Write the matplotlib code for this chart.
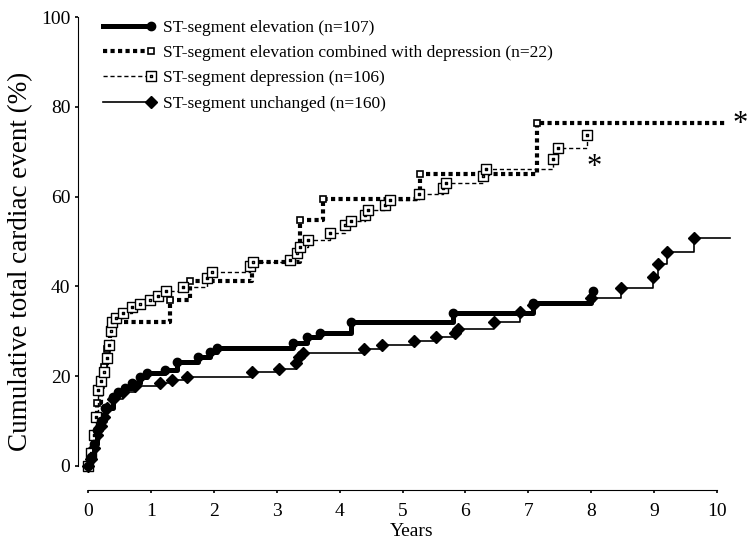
import numpy as np
import matplotlib
matplotlib.use('Agg')
import matplotlib.pyplot as plt
from matplotlib.path import Path
from matplotlib.lines import Line2D
from matplotlib.legend_handler import HandlerLine2D

plt.rcParams['font.family'] = ['Liberation Serif', 'DejaVu Serif']

# event times (years) and cumulative event rate (%)
elev_t = [0, 0.05, 0.1, 0.15, 0.2, 0.27, 0.4, 0.48, 0.59, 0.7, 0.83, 0.94, 1.22, 1.41,
          1.75, 1.94, 2.05, 3.26, 3.48, 3.69, 4.18, 5.8, 7.07, 8.0, 8.03]
elev_v = [0, 2, 5, 8, 10, 13, 15.4, 16.5, 17.4, 18.5, 19.8, 20.7, 21.4, 23.2,
          24.3, 25.4, 26.3, 27.4, 28.7, 29.6, 32.0, 34.0, 36.3, 37.5, 39.0]

comb_t = [0, 0.05, 0.1, 0.15, 0.2, 0.25, 0.3, 0.35, 0.38, 1.3, 1.62, 2.6, 3.37, 3.74, 5.28, 7.14]
comb_v = [0, 3, 7, 14, 18, 22, 26, 30, 32, 37, 41.2, 45.4, 54.8, 59.4, 65, 76.4]
comb_end = 10.15

depr_t = [0, 0.05, 0.1, 0.13, 0.16, 0.2, 0.25, 0.3, 0.33, 0.36, 0.38, 0.45, 0.56, 0.7, 0.83,
          0.99, 1.12, 1.24, 1.51, 1.89, 1.97, 2.58, 2.62, 3.21, 3.32, 3.37, 3.5, 3.85,
          4.09, 4.18, 4.4, 4.45, 4.72, 4.8, 5.26, 5.65, 5.69, 6.28, 6.33, 7.39, 7.47, 7.93]
depr_v = [0, 3, 7, 11, 17, 19, 21, 24, 27, 30, 32, 33, 34, 35.5, 36,
          37, 37.9, 39, 39.9, 41.9, 43.2, 44.5, 45.4, 45.9, 47.4, 48.8, 50.3, 51.9,
          53.7, 54.6, 55.9, 57, 58.1, 59.2, 60.6, 61.9, 63, 64.6, 66.1, 68.4, 70.8, 73.7]

unch_t = [0, 0.05, 0.1, 0.15, 0.2, 0.25, 0.3, 0.4, 0.55, 0.75, 1.14, 1.33, 1.57, 2.6, 3.04,
          3.3, 3.36, 3.42, 4.39, 4.68, 5.18, 5.53, 5.84, 5.88, 6.45, 6.87, 7.07, 8.0,
          8.47, 8.98, 9.06, 9.2, 9.63]
unch_v = [0, 1.5, 4, 7, 9, 11, 13, 15, 16.5, 17.8, 18.5, 19.2, 19.8, 21.0, 21.6,
          23, 24.2, 25.2, 26.0, 26.9, 27.8, 28.7, 29.6, 30.5, 32, 34.3, 35.8, 37.4,
          39.6, 42.1, 45, 47.7, 50.8]
unch_end = 10.2

labels = ['ST-segment elevation (n=107)',
          'ST-segment elevation combined with depression (n=22)',
          'ST-segment depression (n=106)',
          'ST-segment unchanged (n=160)']

# square with a small square inside
box = Path([(-1, -1), (1, -1), (1, 1), (-1, 1), (-1, -1),
            (-0.3, -0.3), (-0.3, 0.3), (0.3, 0.3), (0.3, -0.3), (-0.3, -0.3)],
           [Path.MOVETO, Path.LINETO, Path.LINETO, Path.LINETO, Path.CLOSEPOLY] * 2)


class EndMarker(HandlerLine2D):
    # line over the whole handle, marker only at the right end
    def create_artists(self, legend, orig_handle, xdescent, ydescent, width, height,
                       fontsize, trans):
        y = (height - ydescent) / 2
        line = Line2D([-xdescent, width - xdescent], [y, y])
        self.update_prop(line, orig_handle, legend)
        line.set_drawstyle('default')
        line.set_markevery([1])
        line.set_transform(trans)
        return [line]


fig = plt.figure(figsize=(7.47, 5.45), dpi=100)
ax = fig.add_axes([88 / 747, 79 / 545, 648 / 747, 449 / 545])

h1, = ax.plot(elev_t, elev_v, drawstyle='steps-post', color='k', lw=3.6,
              marker='o', ms=6, mfc='k', mec='k', clip_on=False, zorder=4)

ax.plot(comb_t + [comb_end], comb_v + [comb_v[-1]], drawstyle='steps-post', color='k',
        lw=3, dashes=(1, 0.8), clip_on=False, zorder=3)
ax.plot(comb_t, comb_v, ls='none', marker='s', ms=5, mfc='white', mec='k', mew=1.2,
        clip_on=False, zorder=3)
h2, = ax.plot([], [], color='k', lw=3, dashes=(1, 0.8), marker='s', ms=5, mfc='white',
              mec='k', mew=1.2)

h3, = ax.plot(depr_t, depr_v, drawstyle='steps-post', color='k', lw=1, dashes=(3, 2),
              marker=box, ms=7, mfc='white', mec='k', mew=1, clip_on=False, zorder=3)

ax.plot(unch_t + [unch_end], unch_v + [unch_v[-1]], drawstyle='steps-post', color='k',
        lw=1.2, clip_on=False, zorder=2)
ax.plot(unch_t, unch_v, ls='none', marker='D', ms=6, mfc='k', mec='k',
        clip_on=False, zorder=2)
h4, = ax.plot([], [], color='k', lw=1.2, marker='D', ms=6, mfc='k', mec='k')

ax.text(8.04, 66.5, '*', fontsize=22, ha='center', va='center')
ax.text(10.36, 76.0, '*', fontsize=22, ha='center', va='center', clip_on=False)

ax.set_xlim(0, 10.3)
ax.set_ylim(0, 100)
ax.set_xticks(range(0, 11))
ax.set_yticks(range(0, 101, 20))
ax.spines['top'].set_visible(False)
ax.spines['right'].set_visible(False)
ax.spines['left'].set_position(('outward', 7.2))
ax.spines['bottom'].set_position(('outward', 17.3))
ax.spines['left'].set_bounds(0, 100)
ax.spines['bottom'].set_bounds(0, 10)
ax.tick_params(direction='out', length=2.5, width=1.2, labelsize=14, pad=3)
ax.tick_params(axis='x', pad=7)
ax.set_xlabel('Years', fontsize=14, labelpad=2)
ax.set_ylabel('Cumulative total cardiac event (%)', fontsize=19.5)
ax.yaxis.set_label_coords(-0.085, 0.455)

hm = {h: EndMarker() for h in (h1, h2, h3, h4)}
ax.legend([h1, h2, h3, h4], labels, loc='upper left', bbox_to_anchor=(0.012, 1.01),
          frameon=False, fontsize=12.5, handlelength=2.8, handletextpad=0.7,
          labelspacing=0.53, borderaxespad=0, handler_map=hm)

fig.savefig('out.png', dpi=100)
